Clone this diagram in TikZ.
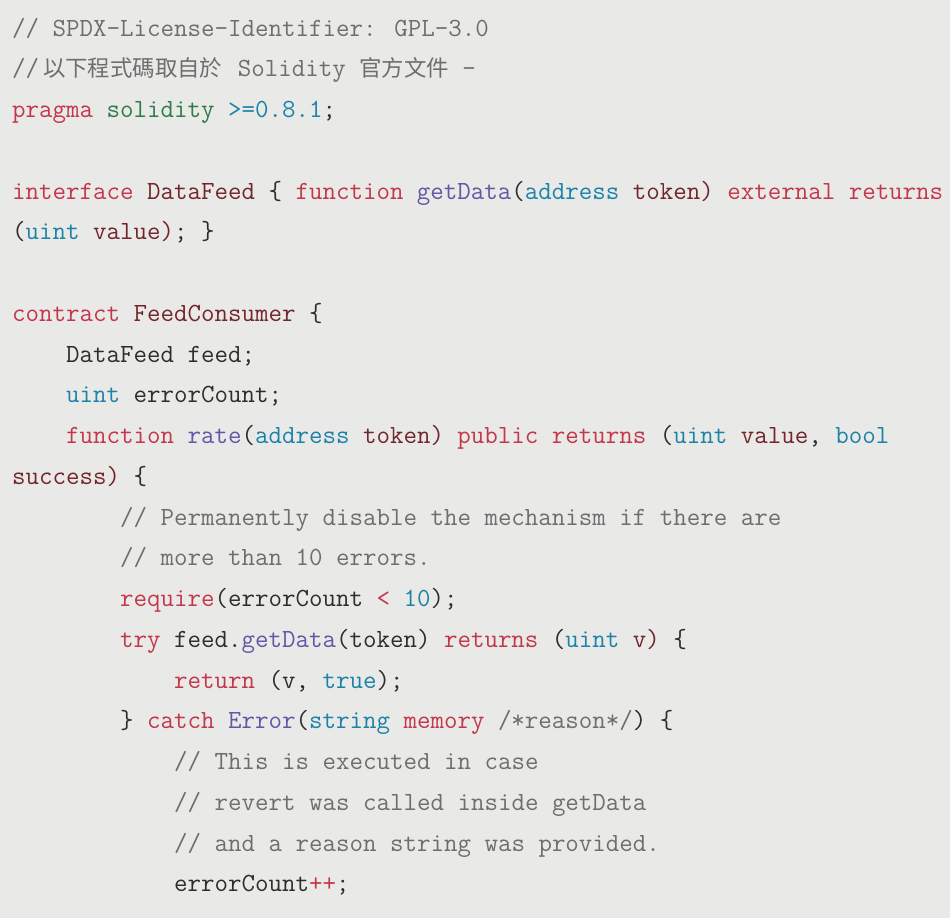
\documentclass[tikz,border=0pt]{standalone}
\usepackage{fontspec}
\newfontfamily\cjk{Noto Sans CJK TC}

\definecolor{codebg}{HTML}{E9E9E7}
\definecolor{codetext}{HTML}{2D2D2D}
\definecolor{kwred}{HTML}{C4364A}
\definecolor{tyteal}{HTML}{1B82A8}
\definecolor{fnpurple}{HTML}{6258A8}
\definecolor{nmmaroon}{HTML}{72252B}
\definecolor{cmgray}{HTML}{6E6E6E}
\definecolor{prgreen}{HTML}{2E7D48}

\newcommand{\kwd}[1]{\textcolor{kwred}{#1}}
\newcommand{\typ}[1]{\textcolor{tyteal}{#1}}
\newcommand{\fnc}[1]{\textcolor{fnpurple}{#1}}
\newcommand{\nme}[1]{\textcolor{nmmaroon}{#1}}
\newcommand{\cmt}[1]{\textcolor{cmgray}{#1}}
\newcommand{\prg}[1]{\textcolor{prgreen}{#1}}
\newcommand{\cjkfont}{\cjk\fontsize{22.4}{22}\selectfont}

\begin{document}
\begin{tikzpicture}[x=1pt,y=-1pt]
        \tikzstyle{every node}=[anchor=base west, inner sep=0pt, text=codetext, font=\ttfamily\fontsize{26.2}{30}\selectfont]

        \fill[codebg] (0,0) rectangle (950,918);
        \useasboundingbox (0,0) rectangle (950,918);

        \node (spdx)     at (12,36)     {\cmt{// SPDX-License-Identifier: GPL-3.0}};
        \node (note)     at (12,76.75)  {\cmt{//\kern4pt{\cjkfont 以下程式碼取自於}\kern2pt{} Solidity {\cjkfont 官方文件} -}};
        \node (pragma)   at (12,117.5)  {\kwd{pragma} \prg{solidity} \typ{>=0.8.1};};

        \node (iface)    at (12,199)    {\kwd{interface} \nme{DataFeed} \{ \kwd{function} \fnc{getData}(\typ{address} \nme{token)} \kwd{external} \kwd{returns}};
        \node (iface2)   at (12,239.75) {(\typ{uint} \nme{value)}; \}};

        \node (contract) at (12,321.25) {\kwd{contract} \nme{FeedConsumer} \{};
        \node (feed)     at (66,362)    {DataFeed feed;};
        \node (count)    at (66,402.75) {\typ{uint} errorCount;};
        \node (rate)     at (66,443.5)  {\kwd{function} \fnc{rate}(\typ{address} \nme{token)} \kwd{public} \kwd{returns} (\typ{uint} \nme{value}, \typ{bool}};
        \node (rate2)    at (12,484.25) {\nme{success)} \{};

        \node (cmt1)     at (120,525)    {\cmt{// Permanently disable the mechanism if there are}};
        \node (cmt2)     at (120,565.75) {\cmt{// more than 10 errors.}};
        \node (req)      at (120,606.5)  {\kwd{require}(errorCount \kwd{<} \typ{10});};
        \node (try)      at (120,647.25) {\kwd{try} feed.\fnc{getData}(token) \kwd{returns} (\typ{uint} \nme{v)} \{};
        \node (ret)      at (174,688)    {\kwd{return} (v, \typ{true});};
        \node (catch)    at (120,728.75) {\} \kwd{catch} \fnc{Error}(\typ{string} \kwd{memory} \cmt{/*reason*/}) \{};

        \node (cmt3)     at (174,769.5)  {\cmt{// This is executed in case}};
        \node (cmt4)     at (174,810.25) {\cmt{// revert was called inside getData}};
        \node (cmt5)     at (174,851)    {\cmt{// and a reason string was provided.}};
        \node (incr)     at (174,891.75) {errorCount\kwd{++};};
\end{tikzpicture}
\end{document}
